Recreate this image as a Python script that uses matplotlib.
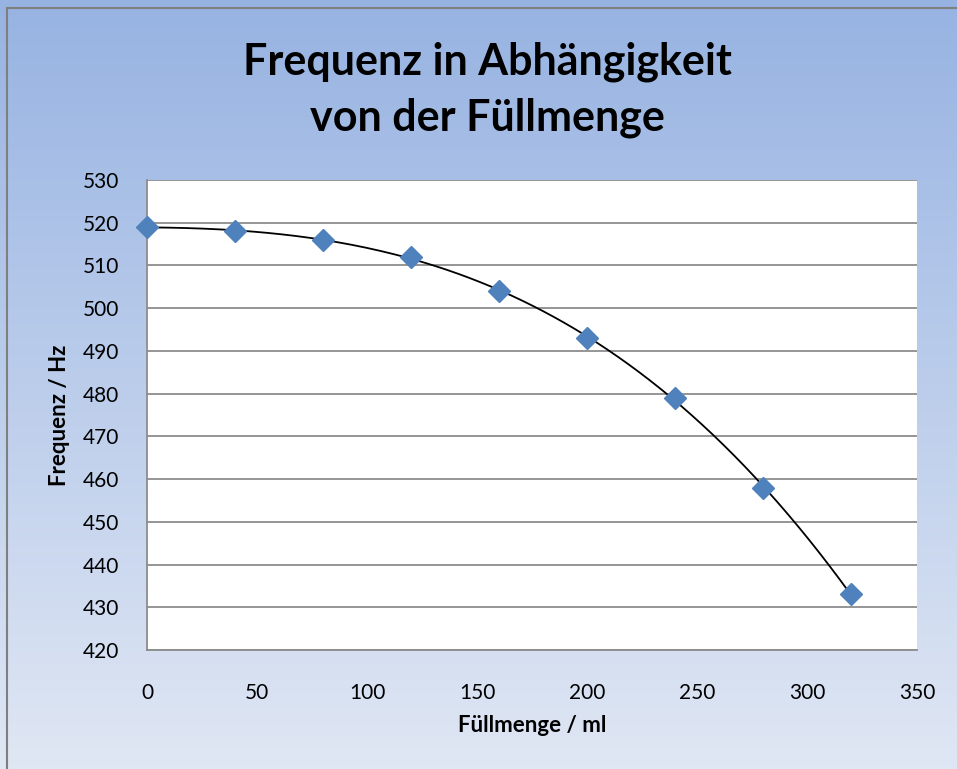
import numpy as np
import matplotlib.pyplot as plt
from matplotlib.colors import LinearSegmentedColormap
from matplotlib.patches import Rectangle

# measured values
fuellmenge = [0, 40, 80, 120, 160, 200, 240, 280, 320]
frequenz = [519, 518, 516, 512, 504, 493, 479, 458, 433]

title = "Frequenz in Abhängigkeit\nvon der Füllmenge"
xlabel = "Füllmenge / ml"
ylabel = "Frequenz / Hz"

plt.rcParams['font.family'] = ['Lato', 'DejaVu Sans']

W, H = 957, 769
fig = plt.figure(figsize=(W / 100, H / 100), dpi=100)

# gradient background (top row = top of figure)
bg = fig.add_axes([0, 0, 1, 1], zorder=-10)
cmap = LinearSegmentedColormap.from_list('bg', ['#97b3e2', '#e0e7f4'])
bg.imshow(np.linspace(0, 1, 256).reshape(-1, 1), aspect='auto', cmap=cmap,
          extent=[0, 1, 0, 1], origin='upper')
bg.set_xlim(0, 1)
bg.set_ylim(0, 1)
bg.axis('off')
# chart frame, only left and top edges visible
top = 1 - 8 / H
bg.add_patch(Rectangle((7 / W, -0.2), 1.2, top + 0.2, fill=False,
                       edgecolor='#7f7f7f', linewidth=1.5,
                       transform=bg.transAxes))

ax = fig.add_axes([147 / W, 1 - 650 / H, (917 - 147) / W, (650 - 180) / H])
ax.set_facecolor('white')

# polynomial trend line
coef = np.polyfit(fuellmenge, frequenz, 3)
xs = np.linspace(min(fuellmenge), max(fuellmenge), 200)
ax.plot(xs, np.polyval(coef, xs), color='black', linewidth=1.3, zorder=3)
ax.plot(fuellmenge, frequenz, linestyle='none', marker='D', markersize=11,
        color='#4f81bd', zorder=4, clip_on=False)

ax.set_xlim(0, 350)
ax.set_ylim(420, 530)
ax.set_xticks(np.arange(0, 351, 50))
ax.set_yticks(np.arange(420, 531, 10))
ax.grid(axis='y', color='#8c8c8c', linewidth=1.3)
ax.set_axisbelow(True)
for s in ['top', 'right']:
    ax.spines[s].set_visible(False)
for s in ['left', 'bottom']:
    ax.spines[s].set_color('#8c8c8c')
    ax.spines[s].set_linewidth(1.3)
ax.tick_params(length=0, labelsize=15)
ax.tick_params(axis='y', pad=20)
ax.tick_params(axis='x', pad=24)

fig.text(487 / W, 1 - 62 / H, title.split('\n')[0], ha='center', va='center',
         fontsize=31, fontweight='bold')
fig.text(487 / W, 1 - 118 / H, title.split('\n')[1], ha='center', va='center',
         fontsize=31, fontweight='bold')
fig.text(60 / W, 1 - 415 / H, ylabel, ha='center', va='center', rotation=90,
         fontsize=16, fontweight='bold')
fig.text(532 / W, 1 - 725 / H, xlabel, ha='center', va='center',
         fontsize=16, fontweight='bold')

fig.savefig('out.png', dpi=100)
